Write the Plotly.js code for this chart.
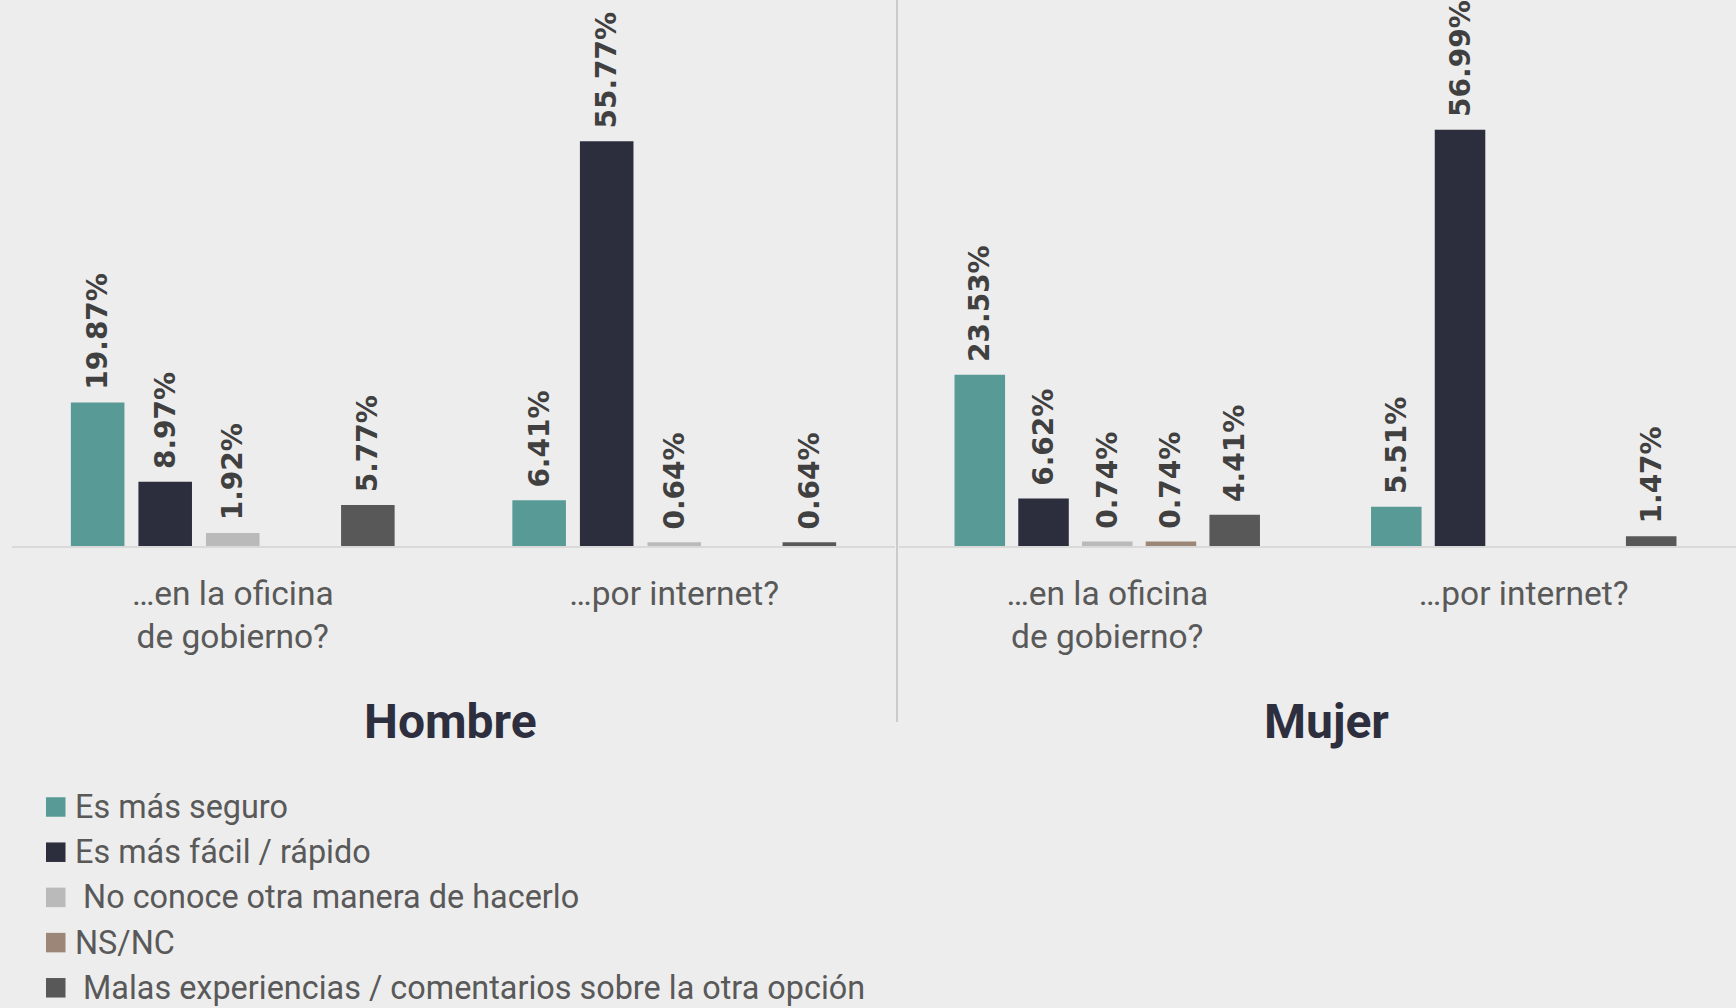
<!DOCTYPE html>
<html>
<head>
<meta charset="utf-8">
<script src="https://cdn.plot.ly/plotly-3.0.1.min.js"></script>
<style>
html,body{margin:0;padding:0;background:#ededed;}
#chart{width:1736px;height:1008px;}
</style>
</head>
<body>
<div id="chart"></div>
<script>
// ---- data ----
const categories = ['…en la oficina<br>de gobierno?', '…por internet?'];
const panelTitles = ['Hombre', 'Mujer'];
const seriesNames = [
  'Es más seguro',
  'Es más fácil / rápido',
  ' No conoce otra manera de hacerlo',
  'NS/NC',
  ' Malas experiencias / comentarios sobre la otra opción'
];
const seguroHombre   = [19.87, 6.41];
const facilHombre    = [8.97, 55.77];
const noConoceHombre = [1.92, 0.64];
const nsncHombre     = [null, null];
const malasHombre    = [5.77, 0.64];

const seguroMujer    = [23.53, 5.51];
const facilMujer     = [6.62, 56.99];
const noConoceMujer  = [0.74, null];
const nsncMujer      = [0.74, null];
const malasMujer     = [4.41, 1.47];

// ---- styles ----
const seriesColors = ['#589a95', '#2d2e3d', '#bababa', '#9b8677', '#585858'];
const W = 1736, H = 1008;
const px = v => v / W;
const py = v => 1 - v / H;

const hombreSeries = [seguroHombre, facilHombre, noConoceHombre, nsncHombre, malasHombre];
const mujerSeries  = [seguroMujer, facilMujer, noConoceMujer, nsncMujer, malasMujer];

const traces = [];
[hombreSeries, mujerSeries].forEach((panel, p) => {
  panel.forEach((vals, i) => {
    traces.push({
      type: 'bar',
      name: seriesNames[i],
      x: categories,
      y: vals,
      xaxis: p === 0 ? 'x' : 'x2',
      yaxis: p === 0 ? 'y' : 'y2',
      marker: {color: seriesColors[i]},
      texttemplate: '\u00a0%{y:.2f}%',
      textposition: 'outside',
      textangle: -90,
      constraintext: 'none',
      cliponaxis: false,
      textfont: {family: 'DejaVu Sans', size: 28, weight: 700, color: '#404040'},
      showlegend: false,
      hoverinfo: 'skip'
    });
  });
});

const tickFont = {family: 'Roboto', size: 33.5, color: '#595959'};
const shapes = [
  {type: 'line', xref: 'paper', yref: 'paper', x0: px(897), x1: px(897), y0: py(722), y1: 1,
   line: {color: '#bfbfbf', width: 1.5}},
  {type: 'line', xref: 'paper', yref: 'paper', x0: px(12), x1: px(895), y0: py(547), y1: py(547),
   line: {color: '#d9d9d9', width: 2}},
  {type: 'line', xref: 'paper', yref: 'paper', x0: px(899), x1: 1, y0: py(547), y1: py(547),
   line: {color: '#d9d9d9', width: 2}}
];
const annotations = [];
// panel titles
[450, 1326].forEach((cx, p) => {
  annotations.push({
    xref: 'paper', yref: 'paper', x: px(cx), y: py(721), xanchor: 'center', yanchor: 'middle',
    text: panelTitles[p], showarrow: false,
    font: {family: 'Roboto', size: 48, weight: 700, color: '#2e2f3e'}
  });
});
// legend (built from the series names and colours)
seriesNames.forEach((name, i) => {
  const cy = 807 + i * 45.2;
  shapes.push({type: 'rect', xref: 'paper', yref: 'paper',
    x0: px(46), x1: px(65.5), y0: py(cy - 9.75), y1: py(cy + 9.75),
    fillcolor: seriesColors[i], line: {width: 0}});
  annotations.push({
    xref: 'paper', yref: 'paper', x: px(73), y: py(cy), xanchor: 'left', yanchor: 'middle',
    text: name.replace(/^ /, '\u00a0'), showarrow: false,
    font: {family: 'Roboto', size: 32.4, color: '#595959'}
  });
});

const layout = {
  width: W, height: H,
  margin: {l: 0, r: 0, t: 0, b: 0},
  paper_bgcolor: '#ededed',
  plot_bgcolor: '#ededed',
  barmode: 'group',
  bargap: 0.235,
  bargroupgap: 0.207,
  showlegend: false,
  font: {family: 'Roboto', color: '#595959'},
  xaxis: {domain: [px(12), px(895)], anchor: 'y', type: 'category',
          showline: false, showgrid: false, zeroline: false, ticks: '',
          tickfont: tickFont, automargin: false, ticklabelstandoff: 23},
  xaxis2: {domain: [px(899), px(1732)], anchor: 'y2', type: 'category',
           showline: false, showgrid: false, zeroline: false, ticks: '',
           tickfont: tickFont, automargin: false, ticklabelstandoff: 23},
  yaxis: {domain: [py(547), 1], range: [0, 75.2], visible: false, anchor: 'x'},
  yaxis2: {domain: [py(547), 1], range: [0, 74.7], visible: false, anchor: 'x2'},
  shapes: shapes,
  annotations: annotations
};

Plotly.newPlot('chart', traces, layout, {displayModeBar: false, staticPlot: true});
</script>
</body>
</html>
